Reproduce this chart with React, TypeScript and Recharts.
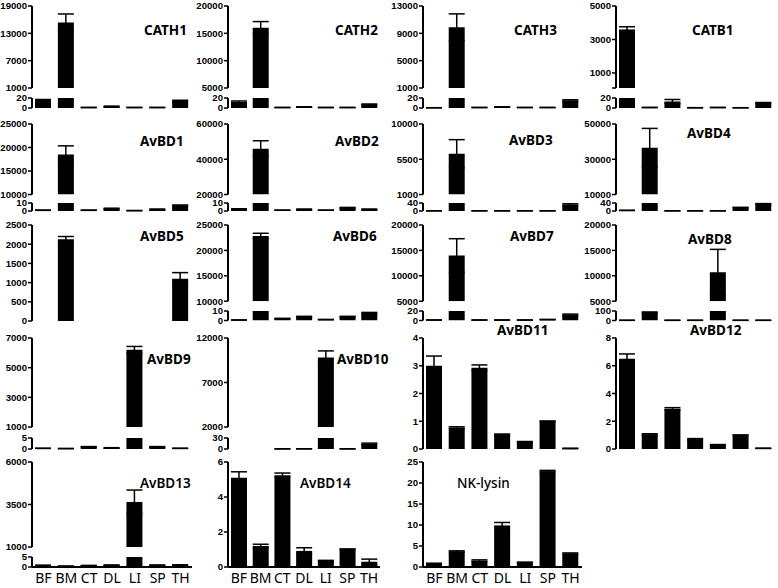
import React from 'react';
import { BarChart, Bar, XAxis, YAxis, ErrorBar } from 'recharts';

const CATS = ['BF', 'BM', 'CT', 'DL', 'LI', 'SP', 'TH'];

// mean / SEM per tissue (order of CATS)
const cath1 = [16, 15400, 1, 3, 1, 1, 14];
const cath1Err = [1, 1850, 0.3, 0.8, 0.2, 0.2, 1.5];
const cath2 = [12, 16000, 1, 2, 1, 1, 7];
const cath2Err = [2, 1150, 0.2, 0.5, 0.2, 0.2, 1];
const cath3 = [0.5, 9900, 1, 2, 1, 1, 15];
const cath3Err = [0.1, 1950, 0.2, 0.4, 0.2, 0.2, 1.5];
const catb1 = [3600, 1, 13, 0.5, 1, 0.5, 10];
const catb1Err = [160, 0.3, 4, 0.2, 0.2, 0.1, 1];
const avbd1 = [1, 18500, 1, 3, 0.5, 2, 7];
const avbd1Err = [0.2, 1850, 0.2, 0.5, 0.1, 0.5, 0.5];
const avbd2 = [2.5, 46000, 1, 2, 1, 4, 2];
const avbd2Err = [0.3, 4500, 0.1, 0.5, 0.1, 0.5, 0.5];
const avbd3 = [1, 6200, 1, 1, 1, 1, 32];
const avbd3Err = [0.2, 1800, 0.2, 0.2, 0.2, 0.2, 4];
const avbd4 = [3, 36500, 1, 1, 1, 17, 35];
const avbd4Err = [0.5, 11000, 0.2, 0.2, 0.2, 1.5, 2];
const avbd5 = [0, 2130, 0, 0, 0, 0, 1100];
const avbd5Err = [0, 70, 0, 0, 0, 0, 160];
const avbd6 = [0.5, 22850, 2, 4, 1, 4, 8];
const avbd6Err = [0.1, 520, 0.3, 0.4, 0.1, 0.4, 0.5];
const avbd7 = [1, 14000, 1, 1, 1, 2, 12];
const avbd7Err = [0.2, 3300, 0.2, 0.2, 0.2, 0.3, 1.5];
const avbd8 = [2, 85, 2, 2, 10700, 2, 2];
const avbd8Err = [0.5, 5, 0.5, 0.5, 4500, 0.5, 0.5];
const avbd9 = [0.3, 0.2, 1, 0.5, 6200, 1, 0.3];
const avbd9Err = [0.05, 0.05, 0.1, 0.1, 230, 0.1, 0.05];
const avbd10 = [0, 0, 0.5, 0.5, 9800, 0.5, 14];
const avbd10Err = [0, 0, 0.1, 0.1, 750, 0.1, 2];
const avbd11 = [3.0, 0.77, 2.93, 0.52, 0.25, 1.0, 0.02];
const avbd11Err = [0.35, 0.03, 0.1, 0.02, 0.02, 0.01, 0.01];
const avbd12 = [6.5, 1.05, 2.9, 0.7, 0.3, 1.0, 0.05];
const avbd12Err = [0.35, 0.05, 0.08, 0.05, 0.02, 0.01, 0.01];
const avbd13 = [0.8, 0.4, 0.7, 0.9, 3650, 0.9, 1.0];
const avbd13Err = [0.1, 0.05, 0.1, 0.1, 700, 0.1, 0.1];
const avbd14 = [5.1, 1.2, 5.25, 0.92, 0.35, 1.02, 0.3];
const avbd14Err = [0.34, 0.1, 0.12, 0.18, 0.03, 0.01, 0.15];
const nklysin = [0.8, 3.7, 1.5, 9.9, 1.1, 22.8, 3.2];
const nklysinErr = [0.1, 0.15, 0.2, 0.7, 0.05, 0.2, 0.15];

// axis ticks (upper = segment above the break, lower = segment below)
const cath1Upper = [1000, 7000, 13000, 19000];
const cath2Upper = [5000, 10000, 15000, 20000];
const cath3Upper = [1000, 5000, 9000, 13000];
const catb1Upper = [100, 1000, 3000, 5000];
const avbd1Upper = [10000, 15000, 20000, 25000];
const avbd2Upper = [20000, 40000, 60000];
const avbd3Upper = [1000, 5500, 10000];
const avbd4Upper = [10000, 30000, 50000];
const avbd6Upper = [10000, 15000, 20000, 25000];
const avbd7Upper = [5000, 10000, 15000, 20000];
const avbd8Upper = [5000, 10000, 15000, 20000];
const avbd9Upper = [1000, 3000, 5000, 7000];
const avbd10Upper = [2000, 7000, 12000];
const avbd13Upper = [1000, 3500, 6000];
const lower5 = [0, 5];
const lower10 = [0, 10];
const lower20 = [0, 20];
const lower30 = [0, 30];
const lower40 = [0, 40];
const lower100 = [0, 100];
const avbd5Ticks = [0, 500, 1000, 1500, 2000, 2500];
const avbd11Ticks = [0, 1, 2, 3, 4];
const avbd12Ticks = [0, 2, 4, 6, 8];
const avbd14Ticks = [0, 2, 4, 6];
const nklysinTicks = [0, 5, 10, 15, 20, 25];

// layout
const COL_X = [32, 228, 423, 616];
const COL_R = [192, 380, 582, 775];
const ROW_Y = [
  [6, 88, 98, 108],
  [123.5, 194, 203, 211],
  [224.5, 300.7, 311, 320.5],
  [338, 427, 438, 449],
  [462, 547, 557, 567],
];

type Spec = {
  title: string;
  mean: number[];
  err: number[];
  upper?: number[];
  lower: number[];
  col: number;
  row: number;
  tx: number;
  ty: number;
  weight?: number;
};

const PANELS: Spec[] = [
  { title: 'CATH1', mean: cath1, err: cath1Err, upper: cath1Upper, lower: lower20, col: 0, row: 0, tx: 144, ty: 31 },
  { title: 'CATH2', mean: cath2, err: cath2Err, upper: cath2Upper, lower: lower20, col: 1, row: 0, tx: 335, ty: 31 },
  { title: 'CATH3', mean: cath3, err: cath3Err, upper: cath3Upper, lower: lower20, col: 2, row: 0, tx: 514, ty: 31 },
  { title: 'CATB1', mean: catb1, err: catb1Err, upper: catb1Upper, lower: lower20, col: 3, row: 0, tx: 692, ty: 31.5 },
  { title: 'AvBD1', mean: avbd1, err: avbd1Err, upper: avbd1Upper, lower: lower10, col: 0, row: 1, tx: 140, ty: 142.5 },
  { title: 'AvBD2', mean: avbd2, err: avbd2Err, upper: avbd2Upper, lower: lower10, col: 1, row: 1, tx: 335, ty: 142.5 },
  { title: 'AvBD3', mean: avbd3, err: avbd3Err, upper: avbd3Upper, lower: lower40, col: 2, row: 1, tx: 509, ty: 141.5 },
  { title: 'AvBD4', mean: avbd4, err: avbd4Err, upper: avbd4Upper, lower: lower40, col: 3, row: 1, tx: 687, ty: 134.5 },
  { title: 'AvBD5', mean: avbd5, err: avbd5Err, lower: avbd5Ticks, col: 0, row: 2, tx: 140, ty: 237 },
  { title: 'AvBD6', mean: avbd6, err: avbd6Err, upper: avbd6Upper, lower: lower10, col: 1, row: 2, tx: 333, ty: 237 },
  { title: 'AvBD7', mean: avbd7, err: avbd7Err, upper: avbd7Upper, lower: lower20, col: 2, row: 2, tx: 510, ty: 237 },
  { title: 'AvBD8', mean: avbd8, err: avbd8Err, upper: avbd8Upper, lower: lower100, col: 3, row: 2, tx: 688, ty: 240 },
  { title: 'AvBD9', mean: avbd9, err: avbd9Err, upper: avbd9Upper, lower: lower5, col: 0, row: 3, tx: 147, ty: 360 },
  { title: 'AvBD10', mean: avbd10, err: avbd10Err, upper: avbd10Upper, lower: lower30, col: 1, row: 3, tx: 337, ty: 360 },
  { title: 'AvBD11', mean: avbd11, err: avbd11Err, lower: avbd11Ticks, col: 2, row: 3, tx: 497, ty: 331 },
  { title: 'AvBD12', mean: avbd12, err: avbd12Err, lower: avbd12Ticks, col: 3, row: 3, tx: 690, ty: 331 },
  { title: 'AvBD13', mean: avbd13, err: avbd13Err, upper: avbd13Upper, lower: lower5, col: 0, row: 4, tx: 140, ty: 484, weight: 600 },
  { title: 'AvBD14', mean: avbd14, err: avbd14Err, lower: avbd14Ticks, col: 1, row: 4, tx: 300, ty: 484, weight: 600 },
  { title: 'NK-lysin', mean: nklysin, err: nklysinErr, lower: nklysinTicks, col: 2, row: 4, tx: 457, ty: 484, weight: 500 },
];

const YW = 44;
const PAD = 8;
const LAB = 26;
const axisStyle = { stroke: '#000', strokeWidth: 2 };
const tickFont = { fontSize: 9.6, fontWeight: 700, fill: '#000', fontFamily: 'Liberation Sans, Arial, sans-serif' };

type Row = { cat: string; v: number | null; e: number | null };

function Segment(props: {
  data: Row[];
  ticks: number[];
  left: number;
  right: number;
  top: number;
  bottom: number;
  base: boolean;
  labels: boolean;
}) {
  const { data, ticks, left, right, top, bottom, base, labels } = props;
  const w = right - left + YW + 4;
  const h = bottom - top + PAD + (labels ? LAB : PAD);
  const domain = [ticks[0], ticks[ticks.length - 1]];
  return (
    <div style={{ position: 'absolute', left: left - YW, top: top - PAD }}>
      <BarChart
        width={w}
        height={h}
        data={data}
        barSize={16}
        margin={{ top: PAD, right: 4, bottom: labels ? 0 : PAD, left: 0 }}
      >
        <XAxis
          dataKey="cat"
          hide={!base}
          axisLine={axisStyle}
          tickLine={false}
          tickSize={0}
          tickMargin={6}
          interval={0}
          height={labels ? LAB : 0}
          tick={labels ? { fontSize: 14, fill: '#000', fontFamily: 'Liberation Sans Narrow, Noto Sans, sans-serif' } : false}
        />
        <YAxis
          type="number"
          width={YW}
          domain={domain}
          ticks={ticks}
          interval={0}
          allowDataOverflow
          axisLine={axisStyle}
          tickLine={{ stroke: '#000', strokeWidth: 1.5 }}
          tickSize={4}
          tickMargin={1}
          tick={tickFont}
          tickFormatter={(t: number) => (t === 100 && ticks[1] === 1000 ? '' : String(t))}
        />
        <Bar dataKey="v" fill="#000" isAnimationActive={false}>
          <ErrorBar dataKey="e" width={8} stroke="#000" strokeWidth={1.5} />
        </Bar>
      </BarChart>
    </div>
  );
}

function Panel({ s }: { s: Spec }) {
  const [uTop, uBot, lTop, axisY] = ROW_Y[s.row];
  const left = COL_X[s.col];
  const right = COL_R[s.col];
  const labels = s.row === 4;
  const lowMax = s.lower[s.lower.length - 1];
  const lowData: Row[] = CATS.map((c, i) => ({
    cat: c,
    v: s.mean[i],
    e: s.upper && s.mean[i] > lowMax ? null : s.err[i],
  }));
  let upperSeg = null;
  if (s.upper) {
    const lo = s.upper[0];
    const upData: Row[] = CATS.map((c, i) => ({
      cat: c,
      v: s.mean[i] > lo ? s.mean[i] : null,
      e: s.mean[i] > lo ? s.err[i] : null,
    }));
    upperSeg = (
      <Segment data={upData} ticks={s.upper} left={left} right={right} top={uTop} bottom={uBot} base={false} labels={false} />
    );
  }
  return (
    <>
      {upperSeg}
      <Segment
        data={lowData}
        ticks={s.lower}
        left={left}
        right={right}
        top={s.upper ? lTop : uTop}
        bottom={axisY}
        base={true}
        labels={labels}
      />
      <div
        style={{
          position: 'absolute',
          left: s.tx,
          top: s.ty - 7.5,
          fontFamily: 'Noto Sans, sans-serif',
          fontWeight: s.weight ?? 700,
          fontSize: 13.5,
          lineHeight: 1,
          whiteSpace: 'nowrap',
          color: '#000',
        }}
      >
        {s.title}
      </div>
    </>
  );
}

export default function App() {
  return (
    <div style={{ position: 'absolute', left: 0, top: 0, width: 778, height: 588, background: '#fff', overflow: 'hidden' }}>
      {PANELS.map((s) => (
        <Panel key={s.title} s={s} />
      ))}
    </div>
  );
}
